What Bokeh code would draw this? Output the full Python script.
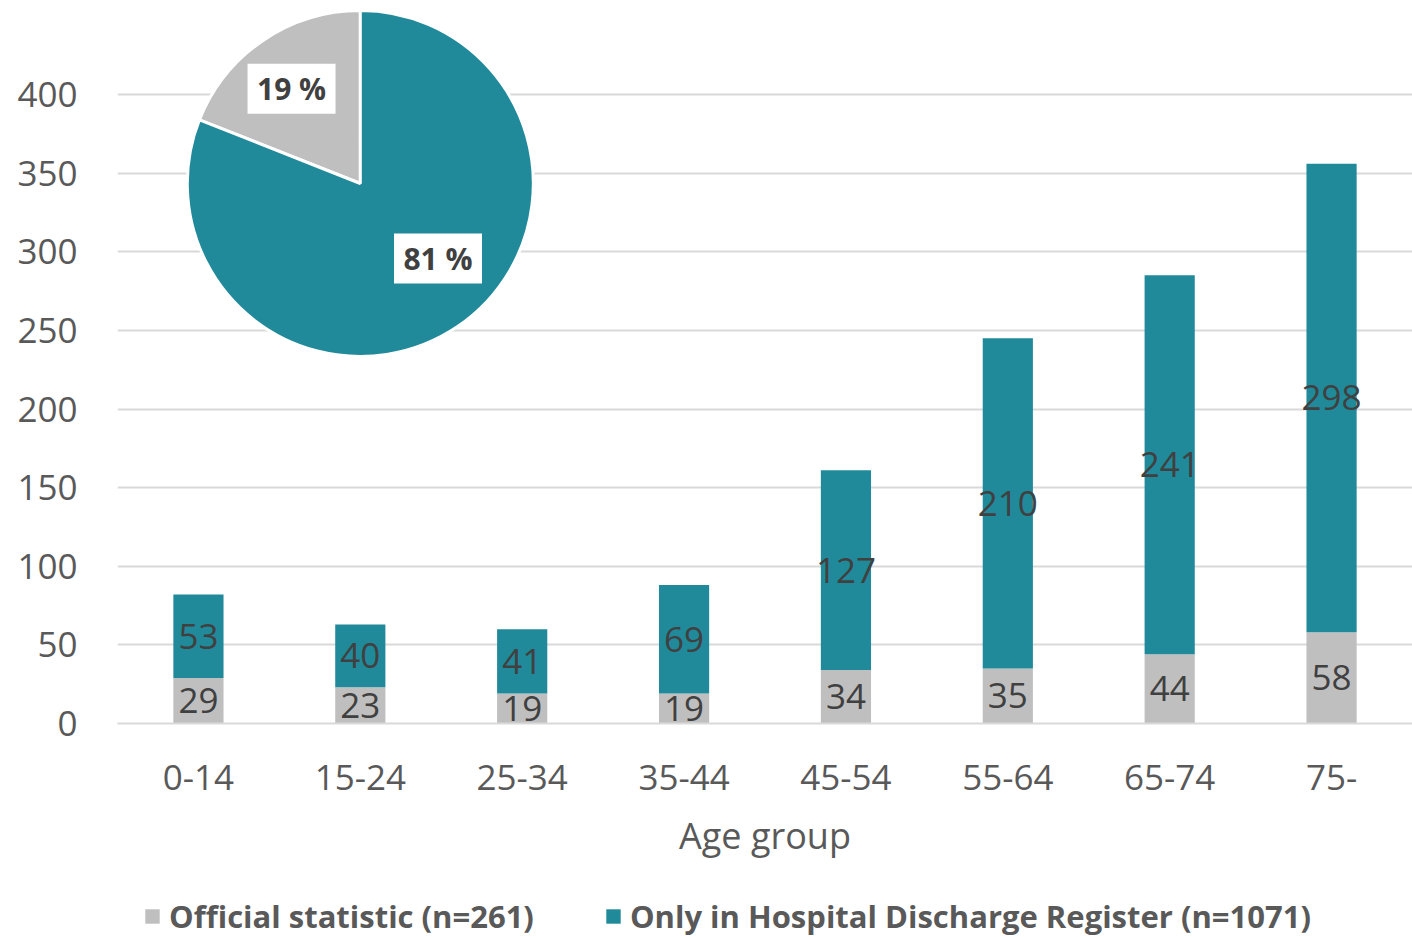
import math
from bokeh.plotting import figure
from bokeh.layouts import column
from bokeh.models import (ColumnDataSource, Range1d, FixedTicker, Legend, LegendItem)
from bokeh.core.properties import value
from bokeh.embed import file_html
from bokeh.resources import INLINE

# Data
age_groups = ["0-14", "15-24", "25-34", "35-44", "45-54", "55-64", "65-74", "75-"]
official = [29, 23, 19, 19, 34, 35, 44, 58]
hospital_only = [53, 40, 41, 69, 127, 210, 241, 298]
series_names = ["Official statistic (n=261)", "Only in Hospital Discharge Register (n=1071)"]
pie_percent = [19, 81]
y_ticks = [0, 50, 100, 150, 200, 250, 300, 350, 400]

GREY = "#BFBFBF"
TEAL = "#208A9B"
TEXT = "#404040"
AXIS_TEXT = "#595959"
GRID = "#D9D9D9"
FONT = "Open Sans"

W = 1412
H_MAIN, H_LEGEND = 893, 44
LEFT, BOTTOM = 117, 170
frame_w = W - LEFT
frame_h = H_MAIN - BOTTOM
px_per_unit = 629 / 400.0
y_top = frame_h / px_per_unit

n = len(age_groups)
unit_px = frame_w / n
xs = [i + 0.5 for i in range(n)]
mid_official = [o / 2 for o in official]
mid_hosp = [o + h / 2 for o, h in zip(official, hospital_only)]
tops = [o + h for o, h in zip(official, hospital_only)]

src = ColumnDataSource(dict(x=xs, official=official, hosp=hospital_only,
                            top=tops, mo=mid_official, mh=mid_hosp,
                            lo=[str(v) for v in official],
                            lh=[str(v) for v in hospital_only]))

p = figure(width=W, height=H_MAIN, output_backend="svg", toolbar_location=None,
           x_range=Range1d(0, n), y_range=Range1d(0, y_top),
           min_border_left=LEFT, min_border_right=0, min_border_top=0,
           min_border_bottom=BOTTOM)
p.outline_line_color = None
p.background_fill_color = "white"
p.border_fill_color = "white"

# Stacked bars
p.vbar(x="x", bottom=0, top="official", width=0.31, source=src,
       fill_color=GREY, line_color=None)
p.vbar(x="x", bottom="official", top="top", width=0.31, source=src,
       fill_color=TEAL, line_color=None)

# Value labels centred in each segment
for ycol, tcol in (("mo", "lo"), ("mh", "lh")):
    p.text(x="x", y=ycol, text=tcol, source=src, text_align="center",
           text_baseline="middle", text_color=TEXT, text_font=value(FONT),
           text_font_size="35px")

# Pie inset of the two shares
cx = 1.5
cy = (frame_h - 183) / px_per_unit
R = 173
a0 = math.pi / 2
a1 = a0 + 2 * math.pi * pie_percent[0] / 100.0
p.wedge(x=[cx], y=[cy], radius=R, radius_units="screen", start_angle=[a0],
        end_angle=[a1], fill_color=GREY, line_color="white", line_width=3)
p.wedge(x=[cx], y=[cy], radius=R, radius_units="screen", start_angle=[a1],
        end_angle=[a0 + 2 * math.pi], fill_color=TEAL, line_color="white",
        line_width=3)

pie_labels = [f"{v} %" for v in pie_percent]
label_angles = [math.radians(126.0), math.radians(-44.0)]
label_dist = [117, 108]
lx = [cx + d * math.cos(a) / unit_px for a, d in zip(label_angles, label_dist)]
ly = [cy + d * math.sin(a) / px_per_unit for a, d in zip(label_angles, label_dist)]
p.rect(x=lx, y=ly, width=88, height=50, width_units="screen",
       height_units="screen", fill_color="white", line_color=None)
p.text(x=lx, y=ly, text=pie_labels, text_align="center", text_baseline="middle",
       text_color=TEXT, text_font=value(FONT), text_font_style="bold",
       text_font_size="30px")

# Axes
p.yaxis.ticker = FixedTicker(ticks=y_ticks)
p.ygrid.ticker = FixedTicker(ticks=y_ticks)
p.yaxis.axis_line_color = None
p.yaxis.major_tick_line_color = None
p.yaxis.minor_tick_line_color = None
p.yaxis.major_label_text_font = FONT
p.yaxis.major_label_text_font_size = "35px"
p.yaxis.major_label_text_color = AXIS_TEXT
p.yaxis.major_label_standoff = 34

p.xaxis.ticker = FixedTicker(ticks=xs)
p.xaxis.major_label_overrides = {x: g for x, g in zip(xs, age_groups)}
p.xaxis.axis_line_color = GRID
p.xaxis.axis_line_width = 2
p.xaxis.major_tick_line_color = None
p.xaxis.minor_tick_line_color = None
p.xaxis.major_label_text_font = FONT
p.xaxis.major_label_text_font_size = "35px"
p.xaxis.major_label_text_color = AXIS_TEXT
p.xaxis.major_label_standoff = 35
p.xaxis.axis_label = "Age group"
p.xaxis.axis_label_text_font = FONT
p.xaxis.axis_label_text_font_size = "36px"
p.xaxis.axis_label_text_font_style = "normal"
p.xaxis.axis_label_text_color = AXIS_TEXT
p.xaxis.axis_label_standoff = 18

p.xgrid.grid_line_color = None
p.ygrid.grid_line_color = GRID
p.ygrid.grid_line_width = 2

# Legend strip underneath the chart
leg = figure(width=W, height=H_LEGEND, output_backend="svg", toolbar_location=None,
             x_range=Range1d(0, 1), y_range=Range1d(0, 1),
             x_axis_location=None, y_axis_location=None,
             min_border_left=0, min_border_right=0, min_border_top=0,
             min_border_bottom=0)
leg.grid.visible = False
leg.outline_line_color = None
leg.border_fill_color = "white"
leg.background_fill_color = "white"
# one swatch per series, kept outside the visible range
swatch = ColumnDataSource(dict(x=[-5], top=[-5]))
g_off = leg.vbar(x="x", top="top", bottom=-6, width=0.1, source=swatch,
                 fill_color=GREY, line_color=None)
g_hosp = leg.vbar(x="x", top="top", bottom=-6, width=0.1, source=swatch,
                  fill_color=TEAL, line_color=None)
legend = Legend(items=[LegendItem(label=series_names[0], renderers=[g_off]),
                       LegendItem(label=series_names[1], renderers=[g_hosp])],
                orientation="horizontal", location=(26, 0),
                label_text_font=FONT, label_text_font_style="bold",
                label_text_font_size="31px", label_text_color=AXIS_TEXT,
                glyph_width=18, glyph_height=18, spacing=70, label_standoff=8,
                padding=0, margin=0, border_line_color=None,
                background_fill_alpha=0)
leg.add_layout(legend, "center")

layout = column(p, leg, spacing=0)
open("out.html", "w").write(file_html(layout, INLINE))
